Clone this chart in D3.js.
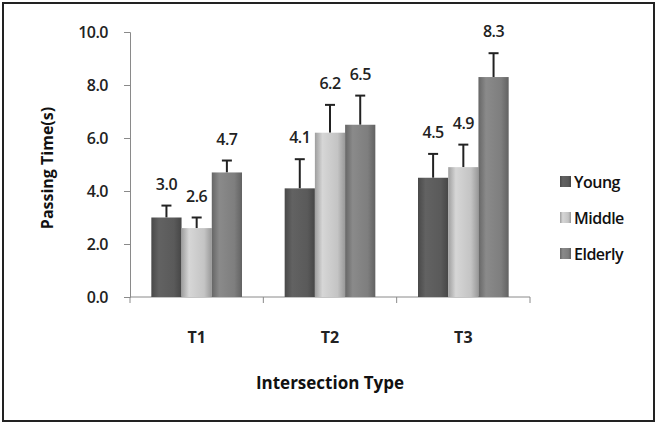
<!DOCTYPE html>
<html>
<head>
<meta charset="utf-8">
<script src="https://cdn.jsdelivr.net/npm/d3@7"></script>
<style>
body { margin: 0; background: #fff; }
text { font-family: "Open Sans", "Noto Sans", "DejaVu Sans", sans-serif; }
</style>
</head>
<body>
<svg id="chart"></svg>
<script>
var width = 657;
var height = 423;

var categories = ["T1", "T2", "T3"];
var groups = ["Young", "Middle", "Elderly"];
var young = [3.0, 4.1, 4.5];
var middle = [2.6, 6.2, 4.9];
var elderly = [4.7, 6.5, 8.3];
// error bars (upper only)
var youngErr = [0.45, 1.1, 0.9];
var middleErr = [0.4, 1.05, 0.85];
var elderlyErr = [0.45, 1.1, 0.9];
var yTicks = [0, 2, 4, 6, 8, 10];

var series = [young, middle, elderly];
var errs = [youngErr, middleErr, elderlyErr];
var colors = ["#5a5a5a", "#c4c4c4", "#7e7e7e"];

var margin = {left: 130, right: 127, top: 32, bottom: 126};

var svg = d3.select("#chart")
	.attr("width", width)
	.attr("height", height);

// frame
svg.append("rect")
	.attr("x", 3).attr("y", 3)
	.attr("width", width - 6).attr("height", height - 5)
	.attr("fill", "#fff")
	.attr("stroke", "#222")
	.attr("stroke-width", 2);

var defs = svg.append("defs");
colors.forEach(function(c, i) {
	var g = defs.append("linearGradient")
		.attr("id", "grad" + i)
		.attr("x1", "0%").attr("x2", "100%")
		.attr("y1", "0%").attr("y2", "0%");
	var base = d3.color(c);
	g.append("stop").attr("offset", "0%").attr("stop-color", base.darker(0.6));
	g.append("stop").attr("offset", "25%").attr("stop-color", base.brighter(0.25));
	g.append("stop").attr("offset", "75%").attr("stop-color", base);
	g.append("stop").attr("offset", "100%").attr("stop-color", base.darker(0.7));
});

var yScale = d3.scaleLinear()
	.domain([0, 10])
	.range([height - margin.bottom, margin.top]);

var xScale = d3.scaleBand()
	.domain(categories)
	.range([margin.left, width - margin.right])
	.paddingInner(0.32)
	.paddingOuter(0.16);

var xSub = d3.scaleBand()
	.domain(groups)
	.range([0, xScale.bandwidth()]);

// y axis
var yAxis = d3.axisLeft(yScale)
	.tickValues(yTicks)
	.tickFormat(d3.format(".1f"))
	.tickSize(6)
	.tickPadding(16);

var yG = svg.append("g")
	.attr("transform", "translate(" + margin.left + ",0)")
	.call(yAxis);
yG.selectAll("path, line").attr("stroke", "#8a8a8a");
yG.selectAll("text")
	.attr("fill", "#222")
	.style("font-size", "16px")
	.style("font-weight", "600")
	.style("letter-spacing", "-0.5px");

// x axis with ticks at category boundaries
var step = (width - margin.right - margin.left) / categories.length;
var xG = svg.append("g");
xG.append("line")
	.attr("x1", margin.left).attr("x2", width - margin.right)
	.attr("y1", yScale(0)).attr("y2", yScale(0))
	.attr("stroke", "#8a8a8a");
xG.selectAll(".bt")
	.data(d3.range(categories.length + 1))
	.enter()
	.append("line")
	.attr("x1", d => margin.left + d * step)
	.attr("x2", d => margin.left + d * step)
	.attr("y1", yScale(0))
	.attr("y2", yScale(0) + 6)
	.attr("stroke", "#8a8a8a");
xG.selectAll(".cl")
	.data(categories)
	.enter()
	.append("text")
	.attr("x", d => xScale(d) + xScale.bandwidth() / 2)
	.attr("y", yScale(0) + 46)
	.attr("text-anchor", "middle")
	.style("font-size", "16px")
	.style("font-weight", "bold")
	.attr("fill", "#222")
	.text(d => d);

// bars
var rows = [];
categories.forEach(function(c, ci) {
	groups.forEach(function(g, gi) {
		rows.push({cat: c, grp: g, gi: gi, v: series[gi][ci], e: errs[gi][ci]});
	});
});

var barG = svg.append("g");

// error bars behind bars
barG.selectAll(".err")
	.data(rows)
	.enter()
	.append("g")
	.each(function(d) {
		var cx = xScale(d.cat) + xSub(d.grp) + xSub.bandwidth() / 2;
		var g = d3.select(this);
		g.append("line")
			.attr("x1", cx).attr("x2", cx)
			.attr("y1", yScale(d.v)).attr("y2", yScale(d.v + d.e))
			.attr("stroke", "#222").attr("stroke-width", 2);
		g.append("line")
			.attr("x1", cx - 5).attr("x2", cx + 5)
			.attr("y1", yScale(d.v + d.e)).attr("y2", yScale(d.v + d.e))
			.attr("stroke", "#222").attr("stroke-width", 2);
	});

barG.selectAll("rect")
	.data(rows)
	.enter()
	.append("rect")
	.attr("x", d => xScale(d.cat) + xSub(d.grp))
	.attr("y", d => yScale(d.v))
	.attr("width", xSub.bandwidth())
	.attr("height", d => yScale(0) - yScale(d.v))
	.attr("fill", d => "url(#grad" + d.gi + ")");

// value labels
barG.selectAll(".lbl")
	.data(rows)
	.enter()
	.append("text")
	.attr("x", d => xScale(d.cat) + xSub(d.grp) + xSub.bandwidth() / 2)
	.attr("y", d => yScale(d.v + d.e) - 16)
	.attr("text-anchor", "middle")
	.style("font-size", "16px")
	.style("font-weight", "600")
	.style("letter-spacing", "-0.5px")
	.attr("fill", "#222")
	.text(d => d3.format(".1f")(d.v));

// axis titles
svg.append("text")
	.attr("transform", "rotate(-90)")
	.attr("x", -168)
	.attr("y", 53)
	.attr("text-anchor", "middle")
	.style("font-size", "16px")
	.style("font-weight", "bold")
	.attr("fill", "#111")
	.text("Passing Time(s)");

svg.append("text")
	.attr("x", 330)
	.attr("y", 389)
	.attr("text-anchor", "middle")
	.style("font-size", "17px")
	.style("font-weight", "bold")
	.attr("fill", "#111")
	.text("Intersection Type");

// legend
var legend = svg.append("g")
	.attr("transform", "translate(560,176)");
var item = legend.selectAll("g")
	.data(groups)
	.enter()
	.append("g")
	.attr("transform", (d, i) => "translate(0," + i * 36 + ")");
item.append("rect")
	.attr("width", 11).attr("height", 11)
	.attr("fill", (d, i) => "url(#grad" + i + ")");
item.append("text")
	.attr("x", 14)
	.attr("y", 12)
	.style("font-size", "16px")
	.style("font-weight", "600")
	.style("letter-spacing", "-0.5px")
	.attr("fill", "#111")
	.text(d => d);
</script>
</body>
</html>
